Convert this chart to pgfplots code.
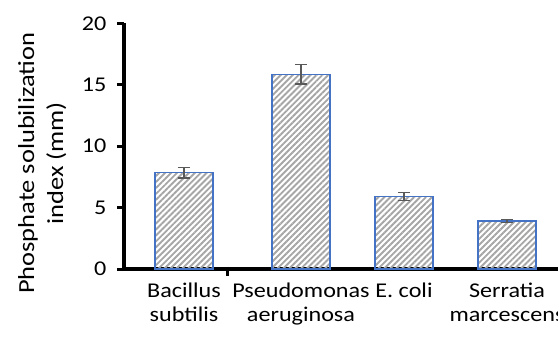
\documentclass[border=0pt]{standalone}
\usepackage{pgfplots}
\pgfplotsset{compat=1.18}
\usepackage{fontspec}
\setmainfont{Carlito}[FakeStretch=1.15]
\usetikzlibrary{patterns.meta}
\definecolor{barblue}{HTML}{4472C4}
\definecolor{errgray}{HTML}{595959}
\definecolor{hatch}{HTML}{A6A6A6}
\begin{document}
\begin{tikzpicture}[x=1pt,y=1pt]
\path[use as bounding box, clip] (0,0) rectangle (558,338);
\begin{axis}[
  at={(124pt,69pt)}, anchor=south west,
  scale only axis,
  width=476pt, height=245.7pt,
  xmin=0, xmax=476, ymin=0, ymax=20,
  axis lines*=left,
  axis line style={line width=4pt, black, shorten <=-2pt},
  ytick={0,5,10,15,20},
  tick align=outside,
  major tick length=7pt,
  tick style={line width=3pt, black},
  xtick={104},
  xticklabels={},
  extra x ticks={60,177,280,383},
  extra x tick labels={{Bacillus\\subtilis},{Pseudomonas\\aeruginosa},{E. coli},{Serratia\\marcescens}},
  extra x tick style={major tick length=0pt, tick style={draw=none}},
  xticklabel style={align=center, font=\fontsize{21}{24}\selectfont, anchor=north, yshift=-10pt},
  yticklabel style={font=\fontsize{21}{22}\selectfont, xshift=-7pt},
  /pgf/number format/assume math mode=true,
  ylabel={Phosphate solubilization\\index (mm)},
  ylabel style={align=center, font=\fontsize{23}{29}\selectfont, at={(axis description cs:-0.172,0.43)}, anchor=center},
  clip=false,
]
\addplot[ybar, bar width=58pt, draw=barblue, line width=1.5pt,
  pattern={Lines[angle=45,distance=4.2pt,line width=1.9pt]}, pattern color=hatch,
  error bars/.cd, y dir=both, y explicit,
  error bar style={line width=1.6pt, color=errgray},
  error mark options={rotate=90, mark size=6pt, line width=1.6pt, color=errgray}]
coordinates {
  (60,7.85) +- (0,0.42)
  (177,15.85) +- (0,0.8)
  (280,5.9) +- (0,0.33)
  (383,3.9) +- (0,0.12)
};
\end{axis}
\end{tikzpicture}
\end{document}
